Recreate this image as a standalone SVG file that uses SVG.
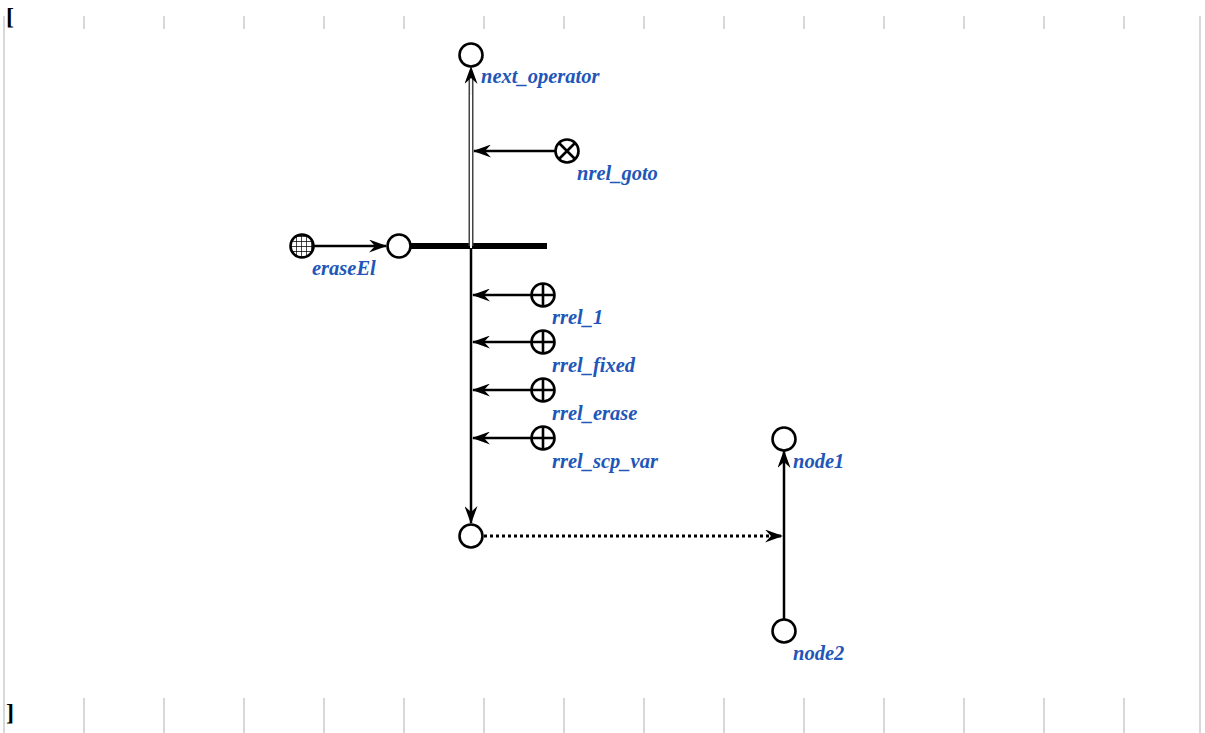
<svg xmlns="http://www.w3.org/2000/svg" width="1205" height="733" viewBox="0 0 1205 733">
<defs>
<style>
.frame{stroke:#cccccc;stroke-width:1.5;fill:none}
.node{fill:#fff;stroke:#000;stroke-width:2.6}
.lbl{font-family:"Liberation Serif",serif;font-style:italic;font-weight:bold;font-size:20.5px;fill:#2156b8}
.br{font-family:"Liberation Serif",serif;font-weight:bold;font-size:24px;fill:#000}
.arc{stroke:#000;stroke-width:2.5;fill:none}
</style>
<marker id="ah" viewBox="0 0 18 13" refX="17" refY="6.5" markerWidth="18" markerHeight="13" markerUnits="userSpaceOnUse" orient="auto">
<path d="M0,0 L18,6.5 L0,13 L6,6.5 Z" fill="#000"/>
</marker>
<pattern id="grid" x="1" y="1" width="5" height="5" patternUnits="userSpaceOnUse">
<rect width="5" height="5" fill="#fff"/>
<path d="M0,0 H5 M0,0 V5" stroke="#000" stroke-width="1.4"/>
</pattern>
</defs>
<g id="frame">
<path class="frame" d="M4,16 V733 M1200,16 V733"/>
<path class="frame" d="M84,16 V29 M164,16 V29 M244,16 V29 M324,16 V29 M404,16 V29 M484,16 V29 M564,16 V29 M644,16 V29 M724,16 V29 M804,16 V29 M884,16 V29 M964,16 V29 M1044,16 V29 M1124,16 V29"/>
<path class="frame" d="M84,698 V733 M164,698 V733 M244,698 V733 M324,698 V733 M404,698 V733 M484,698 V733 M564,698 V733 M644,698 V733 M724,698 V733 M804,698 V733 M884,698 V733 M964,698 V733 M1044,698 V733 M1124,698 V733"/>
<text class="br" x="6" y="24">[</text>
<text class="br" x="6" y="720">]</text>
</g>
<g id="connectors">
<line x1="410" y1="246" x2="547" y2="246" stroke="#000" stroke-width="6"/>
<line x1="471" y1="246" x2="471" y2="78" stroke="#444" stroke-width="5"/>
<line x1="471" y1="248" x2="471" y2="78" stroke="#fff" stroke-width="2"/>
<path d="M471,95 L471,67" stroke="#000" stroke-width="0.1" marker-end="url(#ah)"/>
<line class="arc" x1="556" y1="151" x2="474" y2="151" marker-end="url(#ah)"/>
<line class="arc" x1="313" y1="246" x2="386" y2="246" marker-end="url(#ah)"/>
<line class="arc" x1="471" y1="249" x2="471" y2="523" marker-end="url(#ah)"/>
<line class="arc" x1="532" y1="295" x2="473" y2="295" marker-end="url(#ah)"/>
<line class="arc" x1="532" y1="342" x2="473" y2="342" marker-end="url(#ah)"/>
<line class="arc" x1="532" y1="390" x2="473" y2="390" marker-end="url(#ah)"/>
<line class="arc" x1="532" y1="438" x2="473" y2="438" marker-end="url(#ah)"/>
<line class="arc" x1="784" y1="620" x2="784" y2="451" stroke-width="3" marker-end="url(#ah)"/>
<line x1="484" y1="536" x2="782" y2="536" stroke="#000" stroke-width="3" stroke-dasharray="3,3" marker-end="url(#ah)"/>
</g>
<g id="next_operator">
<circle class="node" cx="471" cy="55" r="11.5"/>
<text class="lbl" x="481" y="83">next_operator</text>
</g>
<g id="nrel_goto">
<circle class="node" cx="567" cy="151" r="11.5"/>
<path d="M559,143 L575,159 M575,143 L559,159" stroke="#000" stroke-width="2.6"/>
<text class="lbl" x="577" y="180">nrel_goto</text>
</g>
<g id="eraseEl">
<circle cx="302" cy="246" r="11.5" fill="url(#grid)" stroke="#000" stroke-width="2.6"/>
<text class="lbl" x="312" y="275">eraseEl</text>
</g>
<g id="operator">
<circle class="node" cx="399" cy="246" r="11.5"/>
</g>
<g id="rrel_1">
<circle class="node" cx="543" cy="295" r="11.5"/>
<path d="M532,295 H554 M543,284 V306" stroke="#000" stroke-width="2.6"/>
<text class="lbl" x="552" y="324">rrel_1</text>
</g>
<g id="rrel_fixed">
<circle class="node" cx="543" cy="342" r="11.5"/>
<path d="M532,342 H554 M543,331 V353" stroke="#000" stroke-width="2.6"/>
<text class="lbl" x="552" y="372">rrel_fixed</text>
</g>
<g id="rrel_erase">
<circle class="node" cx="543" cy="390" r="11.5"/>
<path d="M532,390 H554 M543,379 V401" stroke="#000" stroke-width="2.6"/>
<text class="lbl" x="552" y="420">rrel_erase</text>
</g>
<g id="rrel_scp_var">
<circle class="node" cx="543" cy="438" r="11.5"/>
<path d="M532,438 H554 M543,427 V449" stroke="#000" stroke-width="2.6"/>
<text class="lbl" x="552" y="468">rrel_scp_var</text>
</g>
<g id="end_node">
<circle class="node" cx="471" cy="536" r="11.5"/>
</g>
<g id="node1">
<circle class="node" cx="784" cy="439" r="11.5"/>
<text class="lbl" x="793" y="468">node1</text>
</g>
<g id="node2">
<circle class="node" cx="784" cy="631" r="11.5"/>
<text class="lbl" x="793" y="660">node2</text>
</g>
</svg>
